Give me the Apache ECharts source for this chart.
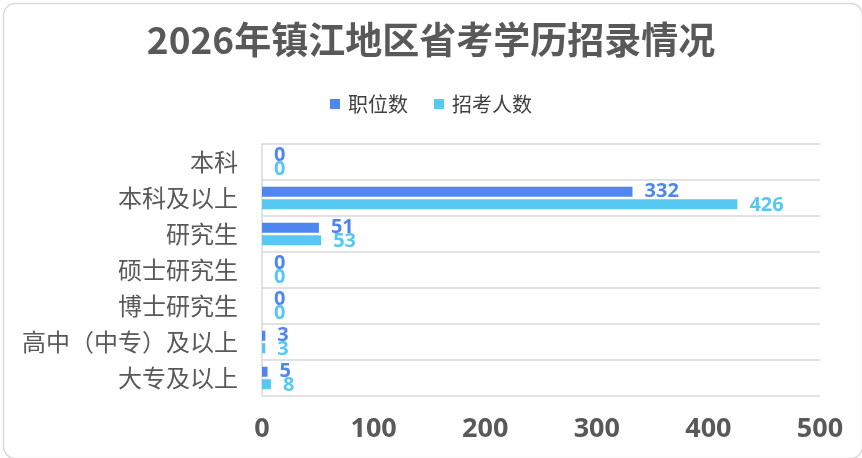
<!DOCTYPE html>
<html><head><meta charset="utf-8">
<script src="https://cdn.jsdelivr.net/npm/echarts@6/dist/echarts.min.js"></script>
<style>html,body{margin:0;padding:0;background:#fff;}#c{width:862px;height:458px;}</style>
</head><body><div id="c"></div>
<script>
const categories = ['本科','本科及以上','研究生','硕士研究生','博士研究生','高中（中专）及以上','大专及以上'];
const positions = [0,332,51,0,0,3,5];
const applicants = [0,426,53,0,0,3,8];
const xTicks = {min:0,max:500,interval:100};
const chart = echarts.init(document.getElementById('c'));
const font = '"Microsoft YaHei","Noto Sans CJK SC",sans-serif';
const narrow = '"Liberation Sans Narrow","Noto Sans",sans-serif';
chart.setOption({
  backgroundColor:'#fff',
  graphic:[{type:'rect',left:1,top:1,shape:{width:859,height:455,r:12},style:{fill:'none',stroke:'#d9d9d9',lineWidth:1.5},silent:true}],
  title:{text:'2026年镇江地区省考学历招录情况',left:'center',top:16,textStyle:{fontSize:37,fontWeight:'bold',color:'#595959',fontFamily:font}},
  legend:{top:89,left:'center',itemWidth:10,itemHeight:10,itemGap:26,itemStyle:{},icon:'rect',textStyle:{fontSize:20,color:'#404040',fontFamily:font,padding:[0,0,0,3]},data:['职位数','招考人数']},
  grid:{left:262,right:42,top:144,bottom:62,containLabel:false},
  xAxis:{type:'value',min:xTicks.min,max:xTicks.max,interval:xTicks.interval,
    axisLine:{show:false},axisTick:{show:false},splitLine:{show:false},
    axisLabel:{margin:20,fontSize:27,fontWeight:'bold',color:'#595959',fontFamily:narrow}},
  yAxis:{type:'category',inverse:true,data:categories,
    axisLine:{show:true,lineStyle:{color:'#d9d9d9',width:1.5}},axisTick:{show:false},
    splitLine:{show:true,lineStyle:{color:'#d9d9d9',width:1.5}},
    axisLabel:{margin:24,fontSize:24,color:'#595959',fontFamily:font}},
  series:[
    {name:'职位数',type:'bar',data:positions,barWidth:10,barGap:'25%',itemStyle:{color:'#5086F0'},
      label:{show:true,position:'right',distance:12,offset:[0,0],fontSize:20,fontWeight:'bold',color:'#5086F0',fontFamily:narrow}},
    {name:'招考人数',type:'bar',data:applicants,barWidth:10,itemStyle:{color:'#56C8F2'},
      label:{show:true,position:'right',distance:12,offset:[0,1],fontSize:20,fontWeight:'bold',color:'#56C8F2',fontFamily:narrow}}
  ]
});
</script></body></html>
